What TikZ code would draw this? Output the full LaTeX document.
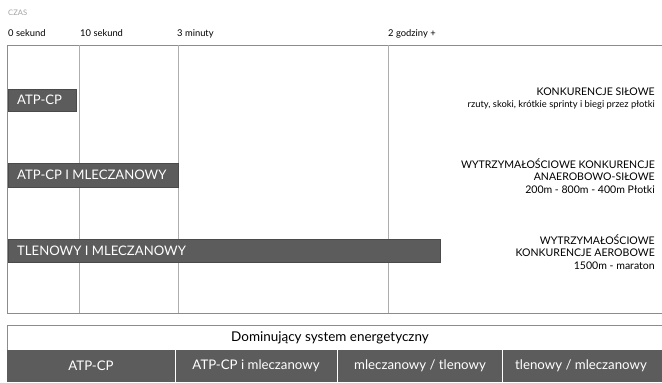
\documentclass[tikz,border=0pt]{standalone}
\usepackage{fontspec}
\setmainfont{Lato}
\usepackage{tikz}
\definecolor{bargray}{HTML}{5C5C5C}
\definecolor{linegray}{HTML}{8C8C8C}
\definecolor{labelgray}{HTML}{A0A0A0}
\tikzset{
  bar/.style={fill=bargray, draw=bargray!80!black, line width=0.4pt},
  bartext/.style={anchor=west, text=white, font=\fontsize{11.2}{13}\selectfont, inner sep=0pt},
  tick/.style={anchor=base west, font=\fontsize{8}{9}\selectfont, inner sep=0pt},
  sport/.style={anchor=north east, align=right, font=\fontsize{9}{11}\selectfont, inner sep=0pt},
  band/.style={text=white, font=\fontsize{11.3}{13}\selectfont, inner sep=0pt}
}

\begin{document}
\begin{tikzpicture}[x=0.03cm, y=-0.03cm]
  \useasboundingbox (0,0) rectangle (662,382);

  \node[anchor=base west, text=labelgray, font=\fontsize{6.5}{8}\selectfont, inner sep=0pt] (czas) at (8,15) {CZAS};
  \node[tick] (t0) at (8,36) {0 sekund};
  \node[tick] (t10) at (80,36) {10 sekund};
  \node[tick] (t3) at (177,36) {3 minuty};
  \node[tick] (t2) at (388,36) {2 godziny +};

  \draw[linegray, line width=0.6pt] (662,45) -- (7,45) -- (7,313) -- (662,313);
  \draw[linegray!70, line width=0.5pt] (79,45) -- (79,313);
  \draw[linegray!70, line width=0.5pt] (178,45) -- (178,313);
  \draw[linegray!70, line width=0.5pt] (388,45) -- (388,313);

  \draw[bar] (8,89) rectangle (76,111);
  \node[bartext] (atp) at (17,100) {ATP-CP};
  \draw[bar] (8,163) rectangle (178,187);
  \node[bartext] (atpm) at (17,175) {ATP-CP I MLECZANOWY};
  \draw[bar] (8,239) rectangle (440,262);
  \node[bartext] (tlen) at (17,250.5) {TLENOWY I MLECZANOWY};

  \node[sport] (silowe) at (655,88) {KONKURENCJE SIŁOWE\\[-1pt]
    {\fontsize{8}{10}\selectfont rzuty, skoki, krótkie sprinty i biegi przez płotki}};
  \node[sport] (anaer) at (655,158) {WYTRZYMAŁOŚCIOWE KONKURENCJE\\ANAEROBOWO-SIŁOWE\\200m - 800m - 400m Płotki};
  \node[sport] (aero) at (655,234) {WYTRZYMAŁOŚCIOWE\\KONKURENCJE AEROBOWE\\1500m - maraton};

  \draw[linegray, line width=0.6pt] (662,325) -- (7,325) -- (7,382);
  \node[font=\fontsize{11.5}{13}\selectfont, inner sep=0pt] (dom) at (330,338) {Dominujący system energetyczny};
  \fill[bargray] (7,350) rectangle (662,382);
  \draw[white, line width=0.8pt] (175,350) -- (175,382);
  \draw[white, line width=0.8pt] (337,350) -- (337,382);
  \draw[white, line width=0.8pt] (502,350) -- (502,382);
  \node[band] (c1) at (91,366) {ATP-CP};
  \node[band] (c2) at (256,366) {ATP-CP i mleczanowy};
  \node[band] (c3) at (420,366) {mleczanowy / tlenowy};
  \node[band] (c4) at (581,366) {tlenowy / mleczanowy};
\end{tikzpicture}
\end{document}
